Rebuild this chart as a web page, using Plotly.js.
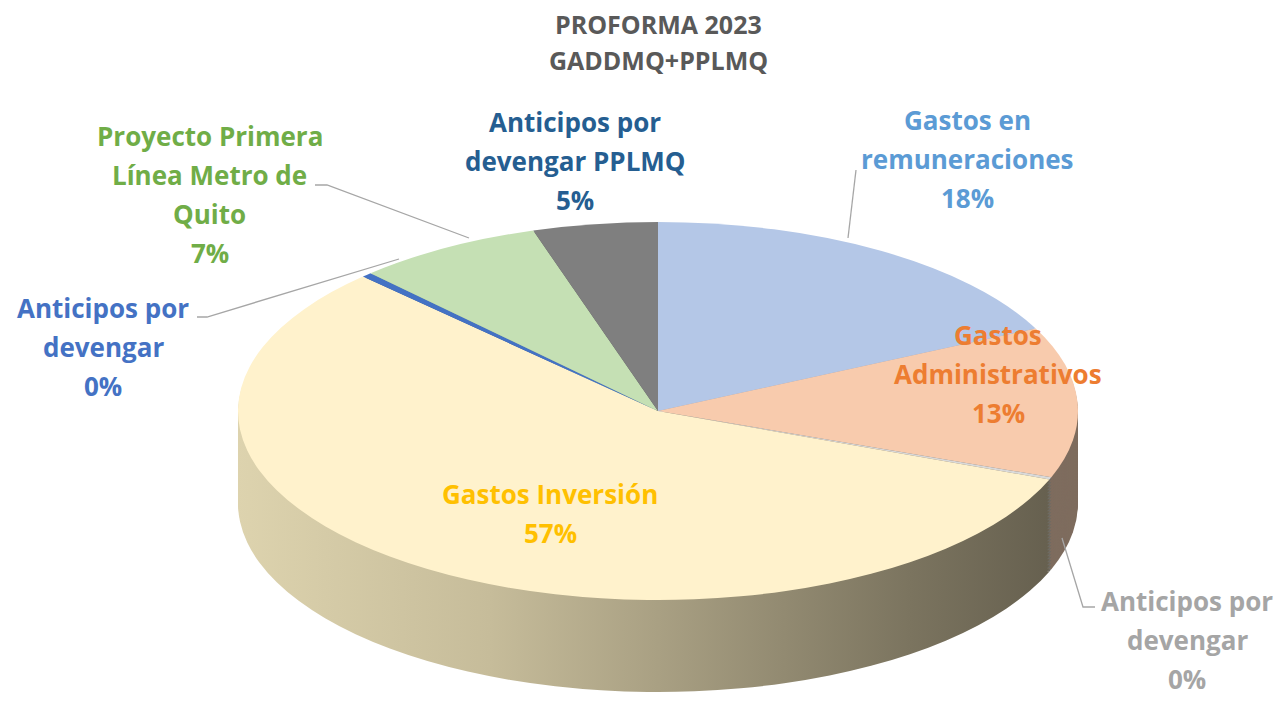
<!DOCTYPE html>
<html>
<head>
<meta charset="utf-8">
<script src="https://cdn.plot.ly/plotly-3.0.1.min.js"></script>
<style>html,body{margin:0;padding:0;background:#fff;}#chart{width:1281px;height:704px;}</style>
</head>
<body>
<div id="chart"></div>
<script>
// ---- data ----
var categories = [
  "Gastos en<br>remuneraciones",
  "Gastos<br>Administrativos",
  "Anticipos por<br>devengar",
  "Gastos Inversión",
  "Anticipos por<br>devengar",
  "Proyecto Primera<br>Línea Metro de<br>Quito",
  "Anticipos por<br>devengar PPLMQ"
];
var values = [17.8, 12.9, 0.2, 56.7, 0.4, 7.2, 4.8];
var titleLines = ["PROFORMA 2023", "GADDMQ+PPLMQ"];

// ---- styles ----
var topColors  = ["#B4C7E7", "#F8CBAD", "#D9D9D9", "#FFF2CC", "#4472C4", "#C5E0B4", "#7F7F7F"];
var sideColors = ["#8FA0BE", "#7E6C5E", "#6E6B62", "#A59C7E", "#2F5597", "#9BB08D", "#595959"];
var textColors = ["#5B9BD5", "#ED7D31", "#A5A5A5", "#FFC000", "#4472C4", "#70AD47", "#255E91"];
// label positions in pixels: [centerX, firstLineCenterY]
var labelPos = [[968,120],[998,335],[1187,601],[550,494],[103,308],[210,136],[575,122]];

var W = 1281, H = 704;
var CX = 658, CY = 411, RY = 189, RX = 420, DEPTH = 92;
var LINE = 39, FONT = 26, FAMILY = "'Open Sans', sans-serif";

function px(x){ return x / W; }
function py(y){ return 1 - y / H; }

var traces = [];
function pieTrace(shift, colors, hover){
  var yc = CY + shift;
  return {
    type: "pie",
    values: values,
    labels: categories.map(function(c,i){ return c.replace(/<br>/g," ") + " " + i; }),
    sort: false,
    direction: "clockwise",
    rotation: 0,
    textinfo: "none",
    hoverinfo: hover ? "label+percent" : "skip",
    showlegend: false,
    marker: { colors: colors, line: { width: 0 } },
    domain: { x: [px(CX - 380), px(CX + 380)], y: [py(yc + RY), py(yc - RY)] }
  };
}
var nSide = 0;
for (var s = DEPTH; s > 0; s -= 3) {
  traces.push(pieTrace(s, sideColors, false));
  nSide++;
}
traces.push(pieTrace(0, topColors, true));

var annotations = [];
titleLines.forEach(function(t, i){
  annotations.push({
    text: t, xref: "paper", yref: "paper", x: px(CX), y: py(24 + i * 36),
    xanchor: "center", yanchor: "middle", showarrow: false,
    font: { family: FAMILY, size: 25, color: "#595959", weight: 700 }
  });
});
var total = values.reduce(function(a,b){ return a + b; }, 0);
categories.forEach(function(c, i){
  var lines = c.split("<br>");
  lines.push(Math.round(values[i] / total * 100) + "%");
  lines.forEach(function(l, j){
    annotations.push({
      text: l, xref: "paper", yref: "paper",
      x: px(labelPos[i][0]), y: py(labelPos[i][1] + j * LINE),
      xanchor: "center", yanchor: "middle", showarrow: false,
      font: { family: FAMILY, size: FONT, color: textColors[i], weight: 700 }
    });
  });
});

// leader lines (pixel coords converted to paper)
var leaders = [
  [[856,170],[848,238]],
  [[1095,607],[1083,607],[1062,538]],
  [[197,317],[207,317],[399,259]],
  [[315,185],[327,185],[469,238]]
];
var shapes = leaders.map(function(pts){
  var d = pts.map(function(p, k){ return (k ? "L" : "M") + px(p[0]) + "," + py(p[1]); }).join(" ");
  return { type: "path", xref: "paper", yref: "paper", path: d, line: { color: "#A6A6A6", width: 1.3 } };
});

var layout = {
  width: W, height: H,
  margin: { l: 0, r: 0, t: 0, b: 0 },
  paper_bgcolor: "#ffffff",
  showlegend: false,
  annotations: annotations,
  shapes: shapes
};

Plotly.newPlot("chart", traces, layout, { displayModeBar: false, staticPlot: true }).then(function(){
  var NS = "http://www.w3.org/2000/svg";
  var svg = document.querySelector("#chart svg.main-svg");
  var defs = svg.querySelector("defs") || svg.insertBefore(document.createElementNS(NS, "defs"), svg.firstChild);
  var grad = document.createElementNS(NS, "linearGradient");
  grad.setAttribute("id", "sideGrad");
  grad.setAttribute("gradientUnits", "userSpaceOnUse");
  grad.setAttribute("x1", CX - RY); grad.setAttribute("y1", 0);
  grad.setAttribute("x2", CX + RY); grad.setAttribute("y2", 0);
  [[0,"#DDD3AE"],[0.3,"#C6BC9A"],[0.5,"#A9A083"],[0.8,"#7B745F"],[1,"#625C4C"]].forEach(function(st){
    var e = document.createElementNS(NS, "stop");
    e.setAttribute("offset", st[0]); e.setAttribute("stop-color", st[1]);
    grad.appendChild(e);
  });
  defs.appendChild(grad);

  var sx = RX / RY;
  var layer = document.querySelector(".pielayer");
  layer.setAttribute("transform", "matrix(" + sx + ",0,0,1," + (CX * (1 - sx)) + ",0)");
  var traceGroups = layer.querySelectorAll("g.trace");
  for (var t = 0; t < nSide; t++) {
    var slices = traceGroups[t].querySelectorAll("g.slice path.surface");
    if (slices[3]) slices[3].style.fill = "url(#sideGrad)";
  }
});
</script>
</body>
</html>
